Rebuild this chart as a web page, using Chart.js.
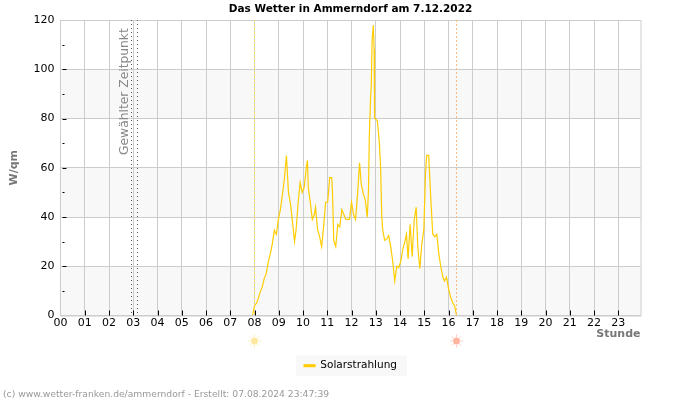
<!DOCTYPE html>
<html>
<head>
<meta charset="utf-8">
<title>Das Wetter in Ammerndorf</title>
<script src="https://cdn.jsdelivr.net/npm/chart.js@4/dist/chart.umd.min.js"></script>
<style>
  html, body { margin: 0; padding: 0; background: #fff; }
  #wrap { position: relative; width: 700px; height: 400px; }
</style>
</head>
<body>
<div id="wrap"><canvas id="wetterChart" width="700" height="400"></canvas></div>
<script>
// Minutes after midnight and W/qm
const solarMinutes = [475, 480, 485, 489, 494, 499, 504, 509, 514, 519, 524, 529, 534, 539, 544, 549, 554, 559, 564, 569,
  574, 579, 583, 588, 593, 598, 603, 608, 611, 613, 618, 623, 628, 631, 636, 641, 646, 651, 656, 661,
  666, 671, 673, 676, 681, 686, 691, 696, 701, 706, 711, 715, 720, 725, 730, 735, 740, 744, 749, 754,
  759, 762, 764, 767, 769, 771, 774, 776, 777, 779, 784, 789, 792, 795, 797, 802, 807, 812, 817, 822,
  827, 832, 837, 842, 847, 852, 856, 860, 865, 870, 875, 880, 884, 889, 894, 899, 903, 906, 911, 913, 916,
  921, 926, 931, 936, 941, 946, 950, 955, 960, 965, 970, 975, 980];
const solarValues = [0, 4, 5, 6.8, 9.5, 11.5, 15, 17, 21.7, 25, 29, 34.6, 33, 39, 43, 49, 55.6, 65, 50, 45.4,
  38, 30, 35, 46, 54, 50, 52, 60, 63, 52, 46, 39, 41, 44, 35, 32, 28, 36, 46, 46,
  56, 56, 50, 30.5, 28, 37, 36, 43, 41, 39, 39, 39, 46, 41, 39, 49.5, 62, 53.5, 49.5, 47,
  40, 51, 72.5, 87.5, 94, 112, 118, 108, 80, 80, 79, 70, 60, 40, 35, 30.5, 31, 32.5, 28, 22,
  14, 20, 19.5, 22, 27, 30, 33, 23, 37, 24, 38.6, 44, 28, 19, 29, 35, 57.6, 65, 65, 58, 48,
  33, 32, 33, 25, 19.7, 15.6, 14, 15.6, 11, 7.5, 5.4, 4, 0];

const sunriseMinute = 479;
const sunsetMinute = 978;
const selectedMinutes = [174, 190];
const shadedBands = [[0, 20], [40, 60], [80, 100]];
const minorYTicks = [10, 30, 50, 70, 90, 110];

const textColor = '#777';
const gridColor = '#ccc';

function drawSun(ctx, x, y, core, ray) {
  ctx.save();
  ctx.strokeStyle = ray;
  ctx.lineWidth = 1;
  for (let a = 0; a < 8; a++) {
    const ang = a * Math.PI / 4;
    ctx.beginPath();
    ctx.moveTo(x + Math.cos(ang) * 4, y + Math.sin(ang) * 4);
    ctx.lineTo(x + Math.cos(ang) * 6.5, y + Math.sin(ang) * 6.5);
    ctx.stroke();
  }
  ctx.fillStyle = core;
  ctx.beginPath();
  ctx.arc(x, y, 3.5, 0, Math.PI * 2);
  ctx.fill();
  ctx.restore();
}

// Bands, frame, small ticks, marker lines and the texts around the plot
const extras = {
  id: 'extras',
  beforeDraw(chart) {
    const { ctx, chartArea: area, scales: { y } } = chart;
    ctx.save();
    ctx.fillStyle = '#f8f8f8';
    shadedBands.forEach(band => {
      ctx.fillRect(area.left, y.getPixelForValue(band[1]), area.width, y.getPixelForValue(band[0]) - y.getPixelForValue(band[1]));
    });
    const box = chart.legend.legendHitBoxes[0];
    ctx.fillRect(box.left - 8, box.top - 5, box.width + 18, box.height + 10);
    ctx.restore();
  },
  afterDatasetsDraw(chart) {
    const { ctx, chartArea: area, scales: { x, y } } = chart;
    ctx.save();
    ctx.lineWidth = 1;

    // frame right and top
    ctx.strokeStyle = gridColor;
    ctx.beginPath();
    ctx.moveTo(area.left, area.top + 0.5);
    ctx.lineTo(area.right + 0.5, area.top + 0.5);
    ctx.lineTo(area.right + 0.5, area.bottom + 0.5);
    ctx.lineTo(area.left, area.bottom + 0.5);
    ctx.stroke();

    // black ticks inside the plot
    ctx.strokeStyle = '#000';
    ctx.beginPath();
    x.ticks.forEach(t => {
      if (t.value === 0) return;
      const px = Math.round(x.getPixelForValue(t.value)) + 0.5;
      ctx.moveTo(px, area.bottom);
      ctx.lineTo(px, area.bottom - 5);
    });
    y.ticks.forEach(t => {
      if (t.value === 0 || t.value === 120) return;
      const py = Math.round(y.getPixelForValue(t.value)) + 0.5;
      ctx.moveTo(area.left + 2, py);
      ctx.lineTo(area.left + 6, py);
    });
    minorYTicks.forEach(v => {
      const py = Math.round(y.getPixelForValue(v)) + 0.5;
      ctx.moveTo(area.left + 2, py);
      ctx.lineTo(area.left + 4, py);
    });
    ctx.stroke();

    // selected time
    ctx.strokeStyle = '#555';
    ctx.setLineDash([1, 3]);
    selectedMinutes.forEach(m => {
      const px = Math.round(x.getPixelForValue(m)) + 0.5;
      ctx.beginPath();
      ctx.moveTo(px, area.top);
      ctx.lineTo(px, area.bottom);
      ctx.stroke();
    });

    // sunrise and sunset
    const riseX = Math.round(x.getPixelForValue(sunriseMinute)) + 0.5;
    const setX = Math.round(x.getPixelForValue(sunsetMinute)) + 0.5;
    ctx.setLineDash([2, 2]);
    ctx.strokeStyle = '#ffe45c';
    ctx.beginPath();
    ctx.moveTo(riseX, area.top);
    ctx.lineTo(riseX, area.bottom);
    ctx.stroke();
    ctx.strokeStyle = '#ffbc78';
    ctx.beginPath();
    ctx.moveTo(setX, area.top);
    ctx.lineTo(setX, area.bottom);
    ctx.stroke();
    ctx.setLineDash([]);

    drawSun(ctx, riseX, 341, '#ffe9a0', '#ffeeb8');
    drawSun(ctx, setX, 341, '#ffb5a0', '#ffcdbd');

    ctx.save();
    ctx.translate(x.getPixelForValue(174), 155);
    ctx.rotate(-Math.PI / 2);
    ctx.fillStyle = '#888';
    ctx.font = '12.3px "DejaVu Sans"';
    ctx.textAlign = 'left';
    ctx.textBaseline = 'bottom';
    ctx.fillText('Gewählter Zeitpunkt', 0, 0);
    ctx.restore();

    ctx.fillStyle = '#999';
    ctx.font = '9.2px "DejaVu Sans"';
    ctx.textAlign = 'left';
    ctx.textBaseline = 'alphabetic';
    ctx.fillText('(c) www.wetter-franken.de/ammerndorf - Erstellt: 07.08.2024 23:47:39', 3, 397);
    ctx.restore();
  }
};

const ctx = document.getElementById('wetterChart').getContext('2d');
const wetterChart = new Chart(ctx, {
  type: 'line',
  data: {
    datasets: [{
      label: 'Solarstrahlung',
      data: solarMinutes.map((m, i) => ({ x: m, y: solarValues[i] })),
      borderColor: '#ffcc00',
      backgroundColor: '#ffcc00',
      borderWidth: 1.2,
      pointRadius: 0,
      tension: 0
    }]
  },
  options: {
    responsive: false,
    animation: false,
    devicePixelRatio: 1,
    layout: { padding: { left: 0, right: 59.5, top: 0, bottom: 19 } },
    plugins: {
      title: {
        display: true,
        fullSize: false,
        text: 'Das Wetter in Ammerndorf am 7.12.2022',
        color: '#000',
        font: { family: '"DejaVu Sans"', size: 10.5, weight: 'bold' },
        padding: { top: 3, bottom: 4.4 }
      },
      legend: {
        position: 'bottom',
        fullSize: false,
        labels: {
          boxWidth: 11,
          boxHeight: 2,
          color: '#000',
          padding: 20,
          font: { family: '"DejaVu Sans"', size: 10.5 }
        }
      },
      tooltip: { enabled: false }
    },
    scales: {
      x: {
        type: 'linear',
        min: 0,
        max: 1435,
        afterFit(scale) { scale.height = 25; },
        grid: { color: gridColor, drawTicks: false, lineWidth: 1 },
        border: { color: gridColor },
        ticks: {
          stepSize: 60,
          includeBounds: false,
          autoSkip: false,
          maxRotation: 0,
          padding: 1,
          color: '#000',
          font: { family: '"DejaVu Sans"', size: 11 },
          callback: v => String(v / 60).padStart(2, '0')
        },
        title: {
          display: true,
          text: 'Stunde',
          align: 'end',
          color: textColor,
          font: { family: '"DejaVu Sans"', size: 11, weight: 'bold' },
          padding: { top: 0, bottom: 0 }
        }
      },
      y: {
        min: 0,
        max: 120,
        afterFit(scale) { scale.width = 60.5; },
        grid: { color: gridColor, drawTicks: false, lineWidth: 1 },
        border: { color: gridColor },
        ticks: {
          stepSize: 20,
          padding: 6,
          color: '#000',
          font: { family: '"DejaVu Sans"', size: 11 }
        },
        title: {
          display: true,
          text: 'W/qm',
          color: textColor,
          font: { family: '"DejaVu Sans"', size: 11, weight: 'bold' },
          padding: { top: 8, bottom: 0 }
        }
      }
    }
  },
  plugins: [extras]
});
</script>
</body>
</html>
